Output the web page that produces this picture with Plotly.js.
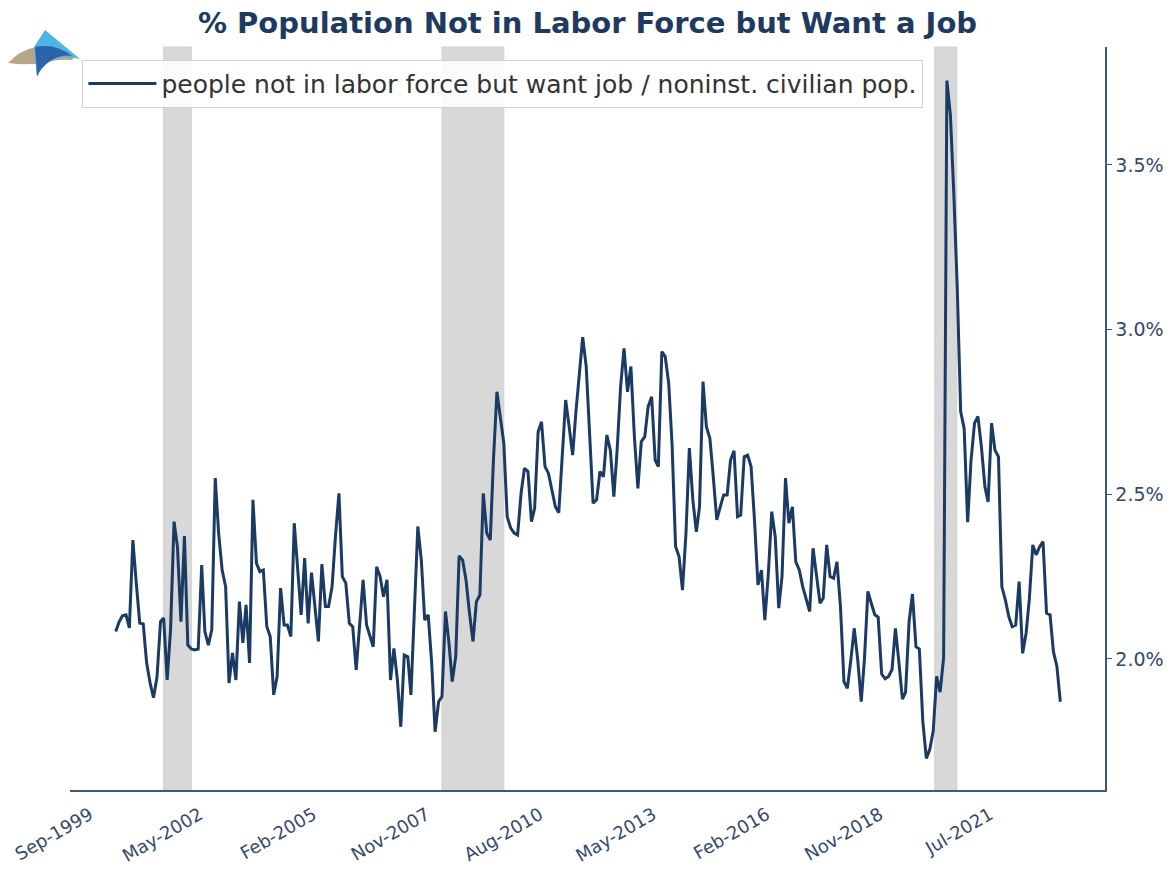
<!DOCTYPE html>
<html>
<head>
<meta charset="utf-8">
<script src="https://cdn.plot.ly/plotly-3.0.1.min.js"></script>
<style>
  html, body { margin: 0; padding: 0; background: #fff; }
  #chart { width: 1174px; height: 869px; }
</style>
</head>
<body>
<div id="chart"></div>
<script>
// monthly series, first point Jan 2000
const startYear = 2000;
const startMonth = 1;

// people not in labor force but want a job / noninst. civilian pop. (%)
const wantJobPct = [
  2.083, 2.113, 2.131, 2.134, 2.094, 2.361, 2.231, 2.109, 2.106, 1.988, 1.927, 1.882,
  1.945, 2.113, 2.124, 1.936, 2.088, 2.417, 2.341, 2.113, 2.373, 2.042, 2.030, 2.027,
  2.030, 2.285, 2.083, 2.042, 2.088, 2.549, 2.382, 2.270, 2.219, 1.927, 2.018, 1.936,
  2.174, 2.049, 2.164, 1.988, 2.483, 2.291, 2.265, 2.270, 2.098, 2.068, 1.891, 1.946,
  2.215, 2.103, 2.103, 2.068, 2.412, 2.270, 2.134, 2.306, 2.108, 2.262, 2.149, 2.053,
  2.288, 2.159, 2.159, 2.219, 2.371, 2.503, 2.250, 2.230, 2.108, 2.098, 1.967, 2.098,
  2.240, 2.103, 2.068, 2.037, 2.280, 2.250, 2.189, 2.240, 1.936, 2.032, 1.936, 1.794,
  2.012, 2.007, 1.891, 2.139, 2.402, 2.300, 2.118, 2.134, 1.987, 1.779, 1.870, 1.886,
  2.144, 2.048, 1.931, 2.007, 2.313, 2.300, 2.240, 2.139, 2.053, 2.174, 2.194, 2.503,
  2.382, 2.361, 2.604, 2.811, 2.736, 2.655, 2.432, 2.397, 2.382, 2.376, 2.503, 2.579,
  2.569, 2.417, 2.457, 2.690, 2.720, 2.584, 2.564, 2.513, 2.462, 2.444, 2.624, 2.786,
  2.705, 2.619, 2.746, 2.877, 2.977, 2.888, 2.695, 2.473, 2.483, 2.569, 2.553, 2.680,
  2.634, 2.493, 2.634, 2.827, 2.943, 2.811, 2.888, 2.675, 2.518, 2.660, 2.675, 2.766,
  2.796, 2.604, 2.584, 2.933, 2.918, 2.837, 2.650, 2.341, 2.311, 2.209, 2.382, 2.640,
  2.483, 2.386, 2.462, 2.842, 2.705, 2.670, 2.553, 2.422, 2.462, 2.498, 2.498, 2.604,
  2.632, 2.432, 2.437, 2.614, 2.619, 2.584, 2.422, 2.225, 2.270, 2.118, 2.260, 2.447,
  2.371, 2.154, 2.250, 2.549, 2.412, 2.462, 2.295, 2.270, 2.219, 2.179, 2.144, 2.336,
  2.250, 2.169, 2.184, 2.346, 2.250, 2.245, 2.295, 2.159, 1.931, 1.911, 1.997, 2.093,
  1.997, 1.870, 1.997, 2.205, 2.169, 2.134, 2.127, 1.954, 1.940, 1.947, 1.968, 2.093,
  1.989, 1.878, 1.899, 2.113, 2.197, 2.037, 2.030, 1.809, 1.698, 1.725, 1.781, 1.947,
  1.899, 2.003, 3.756, 3.652, 3.416, 3.125, 2.751, 2.700, 2.415, 2.604, 2.716, 2.736,
  2.644, 2.523, 2.477, 2.716, 2.634, 2.614, 2.219, 2.179, 2.128, 2.098, 2.103, 2.235,
  2.017, 2.078, 2.179, 2.346, 2.316, 2.341, 2.356, 2.139, 2.134, 2.022, 1.977, 1.870
];

// recession bands (start, end)
const recessionStart = ['2001-03-01', '2007-12-01', '2019-11-15'];
const recessionEnd   = ['2001-11-01', '2009-06-01', '2020-05-28'];

const tickDates  = ['1999-09-01', '2002-05-01', '2005-02-01', '2007-11-01', '2010-08-01',
                    '2013-05-01', '2016-02-01', '2018-11-01', '2021-07-01'];
const tickLabels = ['Sep-1999', 'May-2002', 'Feb-2005', 'Nov-2007', 'Aug-2010',
                    'May-2013', 'Feb-2016', 'Nov-2018', 'Jul-2021'];

const yTicks = [2.0, 2.5, 3.0, 3.5];

// build month strings
function pad(n) { return n < 10 ? '0' + n : '' + n; }
const months = wantJobPct.map(function (v, i) {
  const t = (startMonth - 1) + i;
  return (startYear + Math.floor(t / 12)) + '-' + pad(t % 12 + 1) + '-01';
});

const navy = '#1b3a64';
const axisBlue = '#3d5878';
const tickColor = '#34496b';

const shapes = recessionStart.map(function (s, i) {
  return {
    type: 'rect', xref: 'x', yref: 'paper',
    x0: s, x1: recessionEnd[i], y0: 0, y1: 1,
    fillcolor: '#d8d8d8', line: { width: 1, color: '#d0d0d0' }, layer: 'below'
  };
});

// small logo, top-left corner
const logo = 'data:image/svg+xml;utf8,' + encodeURIComponent(
  '<svg xmlns="http://www.w3.org/2000/svg" width="90" height="60" viewBox="0 22 90 60">' +
  '<path d="M8,63 Q20,50 36,47 Q56,43 74,57 L72,60 Q58,59 48,62 Q30,66 8,63 Z" fill="#b7a688"/>' +
  '<path d="M45,30 L80,59 Q62,54 50,61 Q41,67 37,77 L34,47 Z" fill="#4fb3e3"/>' +
  '<path d="M35,47 Q55,43 72,56 Q62,54 50,61 Q41,67 37,76 Z" fill="#2a64ad"/>' +
  '</svg>');

const data = [{
  x: months,
  y: wantJobPct,
  type: 'scatter',
  mode: 'lines',
  name: 'people not in labor force but want job / noninst. civilian pop.',
  line: { color: navy, width: 3 }
}];

const layout = {
  width: 1174,
  height: 869,
  paper_bgcolor: '#ffffff',
  plot_bgcolor: '#ffffff',
  margin: { l: 70, r: 69, t: 47, b: 79 },
  font: { family: 'DejaVu Sans, sans-serif', color: tickColor },
  title: {
    text: '<b>% Population Not in Labor Force but Want a Job</b>',
    x: 0.5, xref: 'paper', xanchor: 'center',
    y: 0.974, yref: 'container', yanchor: 'middle',
    font: { family: 'DejaVu Sans, sans-serif', size: 29, color: '#1f3a60' }
  },
  showlegend: true,
  legend: {
    x: 0.012, y: 0.983, xanchor: 'left', yanchor: 'top',
    itemwidth: 68,
    bgcolor: 'rgba(255,255,255,0.9)', bordercolor: '#d0d0d0', borderwidth: 1,
    font: { family: 'DejaVu Sans, sans-serif', size: 25, color: '#333333' }
  },
  xaxis: {
    type: 'date',
    range: ['1998-11-22', '2024-01-01'],
    tickvals: tickDates,
    ticktext: tickLabels,
    tickangle: -30,
    ticklabelshift: -12,
    ticklabelstandoff: 6,
    tickfont: { size: 18, color: tickColor },
    showgrid: false,
    zeroline: false,
    showline: true,
    linecolor: axisBlue,
    linewidth: 1.5,
    ticks: ''
  },
  yaxis: {
    side: 'right',
    range: [1.602, 3.858],
    tickvals: yTicks,
    ticktext: yTicks.map(function (v) { return v.toFixed(1) + '%'; }),
    tickfont: { size: 19, color: tickColor },
    showgrid: false,
    zeroline: false,
    showline: true,
    linecolor: axisBlue,
    linewidth: 1.5,
    ticks: 'outside',
    ticklen: 5,
    tickcolor: axisBlue
  },
  shapes: shapes,
  images: [{
    source: logo,
    xref: 'paper', yref: 'paper',
    x: -0.0676, y: 1.0336,
    sizex: 0.087, sizey: 0.0808,
    xanchor: 'left', yanchor: 'top',
    sizing: 'stretch', layer: 'above'
  }]
};

Plotly.newPlot('chart', data, layout, { displayModeBar: false, staticPlot: true });
</script>
</body>
</html>
